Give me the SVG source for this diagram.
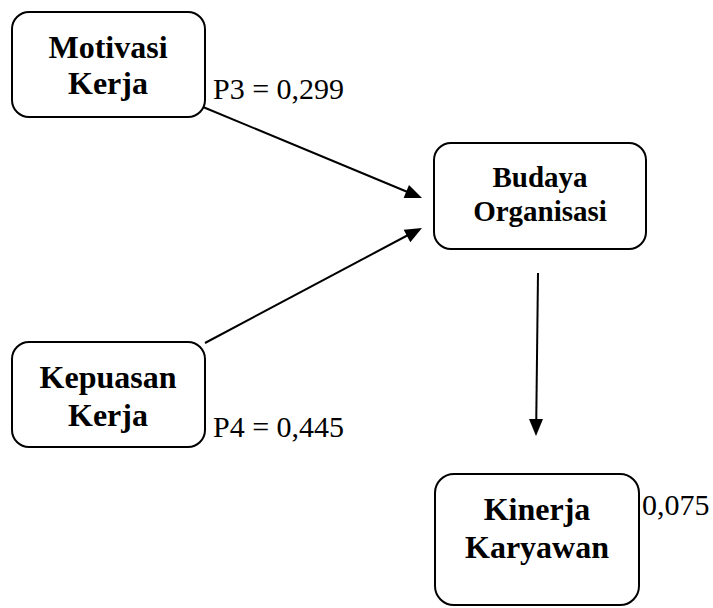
<svg xmlns="http://www.w3.org/2000/svg" width="713" height="608" viewBox="0 0 713 608">
<style>
.box{fill:#fff;stroke:#000;stroke-width:2}
.t{font-weight:bold;font-size:32px;text-anchor:middle;fill:#000}
.l{font-size:30px;fill:#000}
.c{stroke:#000;stroke-width:2;fill:none}
.h{fill:#000}
</style>
<rect width="713" height="608" fill="#fff"/>
<g id="connectors">
<line class="c" x1="203" y1="107" x2="410" y2="193"/>
<path class="h" d="M422,198 L403.6,198 L409,185 z"/>
<line class="c" x1="205" y1="343" x2="410" y2="234"/>
<path class="h" d="M422,228 L410.3,242.2 L403.7,229.8 z"/>
<line class="c" x1="538" y1="273" x2="536.2" y2="425"/>
<path class="h" d="M536,436 L529,419 L543,419 z"/>
</g>
<g id="motivasi" font-family="'Liberation Serif', 'Times New Roman', 'DejaVu Serif', serif">
<rect class="box" x="12" y="12" width="193" height="105" rx="17"/>
<text class="t" x="108" y="58">Motivasi</text>
<text class="t" x="108" y="94">Kerja</text>
</g>
<g id="budaya" font-family="'Liberation Serif', 'Times New Roman', 'DejaVu Serif', serif">
<rect class="box" x="434" y="143" width="212" height="106" rx="17"/>
<text class="t" x="540" y="187" style="font-size:29px">Budaya</text>
<text class="t" x="540" y="221" style="font-size:29px">Organisasi</text>
</g>
<g id="kepuasan" font-family="'Liberation Serif', 'Times New Roman', 'DejaVu Serif', serif">
<rect class="box" x="12" y="342" width="193" height="105" rx="17"/>
<text class="t" x="108" y="388">Kepuasan</text>
<text class="t" x="108" y="426">Kerja</text>
</g>
<g id="kinerja" font-family="'Liberation Serif', 'Times New Roman', 'DejaVu Serif', serif">
<rect class="box" x="435" y="474" width="204" height="131" rx="19"/>
<text class="t" x="537" y="520">Kinerja</text>
<text class="t" x="537" y="558">Karyawan</text>
</g>
<g id="labels" font-family="'Liberation Serif', 'Times New Roman', 'DejaVu Serif', serif">
<text class="l" x="213" y="99">P3 = 0,299</text>
<text class="l" x="213" y="437">P4 = 0,445</text>
<text class="l" x="642" y="515">0,075</text>
</g>
</svg>
